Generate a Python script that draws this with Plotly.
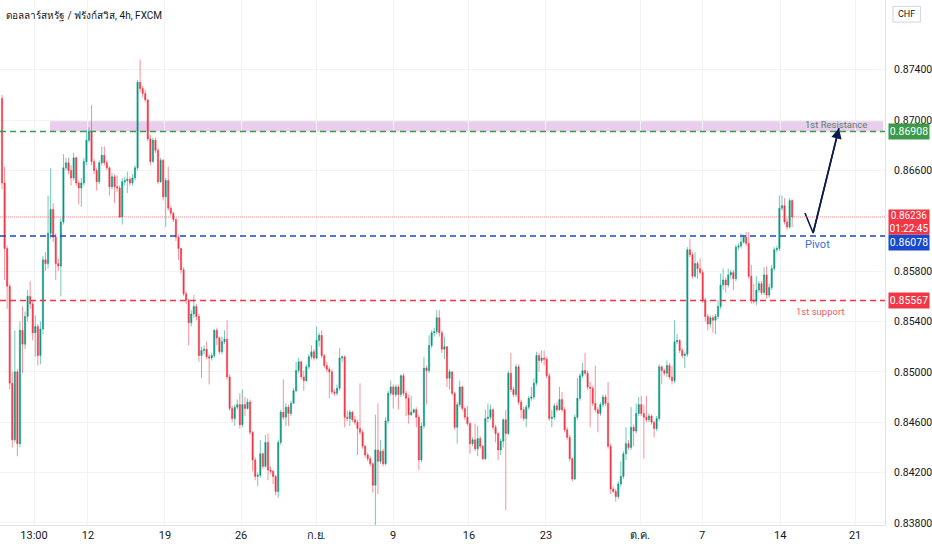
import plotly.graph_objects as go

abertura_inicial = 8717

fechamento = [
    8650, 8598, 8568, 8491, 8446, 8500, 8443, 8533, 8522, 8544,
    8560, 8554, 8531, 8536, 8513, 8534, 8589, 8586, 8610, 8629,
    8607, 8586, 8584, 8619, 8662, 8666, 8660, 8654, 8670, 8650,
    8646, 8650, 8667, 8684, 8691, 8667, 8660, 8651, 8666, 8672,
    8666, 8662, 8647, 8655, 8647, 8646, 8623, 8651, 8652, 8653,
    8650, 8654, 8662, 8730, 8725, 8721, 8716, 8685, 8667, 8684,
    8676, 8651, 8668, 8639, 8652, 8630, 8626, 8621, 8607, 8598,
    8581, 8562, 8557, 8539, 8546, 8552, 8544, 8513, 8517, 8518,
    8512, 8511, 8513, 8533, 8527, 8516, 8524, 8526, 8496, 8471,
    8463, 8472, 8474, 8458, 8474, 8471, 8476, 8452, 8430, 8417,
    8418, 8435, 8425, 8444, 8422, 8421, 8417, 8405, 8444, 8468,
    8464, 8472, 8467, 8475, 8485, 8501, 8508, 8496, 8493, 8504,
    8512, 8516, 8511, 8525, 8529, 8513, 8505, 8502, 8500, 8484,
    8483, 8487, 8511, 8512, 8464, 8463, 8468, 8462, 8460, 8455,
    8452, 8441, 8434, 8431, 8427, 8410, 8438, 8429, 8437, 8427,
    8461, 8483, 8488, 8482, 8488, 8482, 8497, 8483, 8479, 8466,
    8468, 8470, 8464, 8430, 8457, 8503, 8501, 8521, 8531, 8532,
    8543, 8531, 8518, 8520, 8495, 8500, 8483, 8456, 8474, 8488,
    8471, 8464, 8459, 8443, 8446, 8439, 8447, 8441, 8431, 8463,
    8464, 8470, 8456, 8451, 8438, 8445, 8462, 8451, 8499, 8486,
    8482, 8504, 8476, 8470, 8463, 8472, 8479, 8480, 8491, 8513,
    8509, 8511, 8510, 8497, 8463, 8464, 8473, 8470, 8478, 8470,
    8454, 8448, 8431, 8415, 8464, 8479, 8497, 8501, 8499, 8488,
    8487, 8475, 8470, 8467, 8474, 8480, 8475, 8441, 8407, 8405,
    8401, 8411, 8417, 8435, 8443, 8440, 8456, 8453, 8467, 8474,
    8467, 8464, 8462, 8465, 8460, 8455, 8463, 8504, 8501, 8499,
    8505, 8496, 8493, 8524, 8525, 8517, 8513, 8514, 8597, 8593,
    8576, 8586, 8582, 8579, 8557, 8544, 8538, 8543, 8541, 8544,
    8552, 8569, 8573, 8569, 8577, 8579, 8574, 8599, 8600, 8603,
    8607, 8602, 8576, 8557, 8556, 8565, 8570, 8563, 8577, 8561,
    8567, 8582, 8597, 8598, 8630, 8632, 8619, 8615, 8636, 8623,
]

maxima = [
    8720, 8663, 8600, 8570, 8500, 8533, 8502, 8540, 8552, 8548,
    8565, 8572, 8556, 8545, 8538, 8540, 8592, 8595, 8640, 8662,
    8634, 8610, 8590, 8622, 8673, 8670, 8670, 8664, 8674, 8671,
    8652, 8654, 8670, 8692, 8694, 8712, 8669, 8662, 8668, 8679,
    8679, 8668, 8663, 8658, 8657, 8656, 8648, 8654, 8655, 8659,
    8655, 8657, 8664, 8732, 8748, 8727, 8724, 8714, 8688, 8686,
    8686, 8678, 8670, 8669, 8654, 8663, 8632, 8627, 8622, 8609,
    8593, 8583, 8564, 8558, 8549, 8561, 8554, 8546, 8520, 8521,
    8524, 8514, 8515, 8534, 8535, 8528, 8528, 8533, 8541, 8498,
    8473, 8474, 8478, 8483, 8486, 8480, 8479, 8478, 8453, 8432,
    8420, 8446, 8436, 8450, 8451, 8425, 8422, 8418, 8446, 8470,
    8494, 8475, 8474, 8477, 8487, 8508, 8511, 8509, 8501, 8506,
    8514, 8521, 8518, 8536, 8531, 8533, 8514, 8508, 8504, 8502,
    8486, 8490, 8519, 8513, 8513, 8469, 8470, 8469, 8465, 8462,
    8491, 8454, 8442, 8436, 8433, 8428, 8466, 8475, 8446, 8439,
    8464, 8485, 8493, 8490, 8490, 8490, 8498, 8499, 8485, 8482,
    8481, 8471, 8472, 8466, 8460, 8512, 8505, 8529, 8533, 8535,
    8549, 8549, 8533, 8528, 8512, 8502, 8500, 8484, 8476, 8493,
    8489, 8472, 8473, 8460, 8448, 8459, 8457, 8449, 8442, 8470,
    8475, 8474, 8471, 8458, 8452, 8447, 8463, 8470, 8501, 8515,
    8488, 8506, 8506, 8478, 8472, 8474, 8481, 8488, 8495, 8516,
    8515, 8517, 8517, 8512, 8499, 8470, 8475, 8476, 8488, 8484,
    8472, 8456, 8450, 8432, 8466, 8495, 8499, 8507, 8515, 8501,
    8492, 8489, 8505, 8472, 8476, 8482, 8482, 8492, 8443, 8409,
    8407, 8413, 8429, 8437, 8456, 8446, 8472, 8458, 8475, 8480,
    8481, 8474, 8481, 8467, 8466, 8461, 8465, 8506, 8505, 8502,
    8509, 8507, 8505, 8541, 8530, 8526, 8519, 8516, 8599, 8606,
    8595, 8595, 8588, 8590, 8581, 8559, 8546, 8545, 8545, 8546,
    8557, 8578, 8582, 8575, 8582, 8581, 8581, 8601, 8602, 8610,
    8609, 8611, 8611, 8585, 8570, 8576, 8572, 8572, 8583, 8584,
    8570, 8585, 8599, 8600, 8640, 8640, 8638, 8622, 8638, 8637,
]

minima = [
    8645, 8573, 8550, 8486, 8440, 8444, 8433, 8440, 8499, 8518,
    8540, 8550, 8525, 8512, 8505, 8506, 8530, 8580, 8582, 8606,
    8603, 8573, 8580, 8560, 8617, 8660, 8657, 8648, 8652, 8648,
    8633, 8631, 8648, 8664, 8682, 8664, 8657, 8644, 8649, 8664,
    8664, 8660, 8640, 8645, 8634, 8643, 8622, 8617, 8648, 8642,
    8648, 8648, 8652, 8660, 8722, 8718, 8714, 8683, 8664, 8666,
    8674, 8649, 8650, 8636, 8615, 8628, 8624, 8619, 8604, 8589,
    8578, 8560, 8554, 8521, 8536, 8543, 8541, 8508, 8495, 8514,
    8510, 8490, 8509, 8511, 8521, 8514, 8514, 8522, 8494, 8469,
    8460, 8457, 8470, 8455, 8456, 8465, 8470, 8450, 8421, 8414,
    8409, 8416, 8423, 8424, 8414, 8419, 8411, 8402, 8400, 8442,
    8462, 8457, 8457, 8465, 8475, 8484, 8499, 8494, 8485, 8492,
    8502, 8510, 8509, 8510, 8520, 8511, 8503, 8500, 8479, 8482,
    8481, 8481, 8485, 8508, 8456, 8461, 8457, 8460, 8458, 8434,
    8450, 8439, 8432, 8429, 8425, 8404, 8377, 8403, 8427, 8425,
    8426, 8459, 8481, 8471, 8480, 8470, 8480, 8481, 8465, 8459,
    8465, 8467, 8456, 8422, 8428, 8455, 8474, 8499, 8519, 8528,
    8530, 8528, 8515, 8510, 8488, 8486, 8481, 8454, 8443, 8472,
    8469, 8462, 8457, 8435, 8441, 8437, 8433, 8439, 8430, 8430,
    8460, 8462, 8454, 8444, 8430, 8434, 8440, 8390, 8450, 8484,
    8480, 8480, 8474, 8463, 8461, 8456, 8470, 8477, 8478, 8489,
    8500, 8507, 8505, 8495, 8461, 8456, 8462, 8468, 8469, 8468,
    8452, 8446, 8429, 8413, 8414, 8462, 8477, 8495, 8497, 8486,
    8456, 8473, 8468, 8452, 8465, 8472, 8473, 8439, 8403, 8404,
    8397, 8399, 8409, 8415, 8430, 8438, 8438, 8441, 8451, 8465,
    8465, 8431, 8460, 8460, 8458, 8448, 8453, 8461, 8490, 8497,
    8496, 8494, 8490, 8491, 8522, 8515, 8511, 8503, 8512, 8591,
    8574, 8575, 8574, 8577, 8555, 8540, 8533, 8535, 8531, 8530,
    8542, 8550, 8565, 8563, 8567, 8574, 8565, 8572, 8597, 8598,
    8602, 8600, 8574, 8554, 8554, 8553, 8563, 8561, 8561, 8558,
    8559, 8565, 8580, 8595, 8596, 8628, 8617, 8613, 8614, 8615,
]

# rotulos do eixo de tempo (posicao em numero de candles)
pos_datas = [12.5, 33.6, 63.7, 93.5, 122.8, 152.9, 182.6, 212.7, 249.5, 273.8, 304.3, 333.6]
rotulos_datas = ["13:00", "12", "19", "26", "ก.ย.", "9", "16", "23", "ต.ค.", "7", "14", "21"]

ticks_preco = [0.838, 0.842, 0.846, 0.850, 0.854, 0.858, 0.866, 0.870, 0.874]

# niveis desenhados
resistencia = 0.86908
topo_zona = 0.86990
pivot = 0.86078
suporte = 0.85567

# seta prevista: (candle, preco)
seta_ini = (314.0, 0.86261)
seta_meio = (317.2, 0.86103)
seta_fim = (327.3, 0.86936)

VERDE = "#089981"
VERMELHO = "#f23645"
AZUL = "#1848cc"
TEXTO = "#131722"
FONTE = "Liberation Sans Narrow, Roboto, Noto Sans, sans-serif"

x = list(range(len(fechamento)))
fech = [v / 10000 for v in fechamento]
abre = [abertura_inicial / 10000] + fech[:-1]
alta = [v / 10000 for v in maxima]
baixa = [v / 10000 for v in minima]
ultimo = fech[-1]

fig = go.Figure()

fig.add_trace(go.Candlestick(
    x=x, open=abre, high=alta, low=baixa, close=fech,
    increasing=dict(line=dict(color="rgba(8,153,129,0.55)", width=1), fillcolor=VERDE),
    decreasing=dict(line=dict(color="rgba(242,54,69,0.55)", width=1), fillcolor=VERMELHO),
    whiskerwidth=0, hoverinfo="skip", showlegend=False,
))

# seta da projecao
fig.add_trace(go.Scatter(
    x=[seta_ini[0], seta_meio[0], seta_fim[0]],
    y=[seta_ini[1], seta_meio[1], seta_fim[1]],
    mode="lines", line=dict(color="#0d1b4c", width=1.6),
    showlegend=False, hoverinfo="skip",
))

formas = [
    dict(type="rect", xref="paper", yref="y", x0=50 / 885, x1=0.998, y0=resistencia, y1=topo_zona,
         fillcolor="rgba(206,147,216,0.45)", line=dict(width=0), layer="below"),
    dict(type="line", xref="paper", yref="y", x0=0, x1=1, y0=resistencia, y1=resistencia,
         line=dict(color="#3a9a4a", width=1.5, dash="6px,4px")),
    dict(type="line", xref="paper", yref="y", x0=0, x1=1, y0=pivot, y1=pivot,
         line=dict(color=AZUL, width=1.5, dash="6px,4px")),
    dict(type="line", xref="paper", yref="y", x0=0, x1=1, y0=suporte, y1=suporte,
         line=dict(color=VERMELHO, width=1.5, dash="6px,4px")),
    dict(type="line", xref="paper", yref="y", x0=0, x1=1, y0=ultimo, y1=ultimo,
         line=dict(color="rgba(242,54,69,0.6)", width=1, dash="1px,1px")),
    # caixa CHF
    dict(type="rect", xref="paper", yref="paper", x0=1.009, x1=1.04, y0=0.958, y1=0.988,
         line=dict(color="#d1d4dc", width=1), fillcolor="white"),
]

def etiqueta(y, texto, cor, desloc=0):
    return dict(xref="paper", yref="y", x=1, y=y, xanchor="left", yanchor="middle",
                xshift=3, yshift=desloc, text=texto, showarrow=False, bgcolor=cor,
                borderpad=1, width=38, height=13, font=dict(color="white", size=10.5))

anotacoes = [
    dict(xref="paper", yref="paper", x=0.005, y=0.985, xanchor="left", yanchor="top",
         text="ดอลลาร์สหรัฐ / ฟรังก์สวิส, 4h, FXCM", showarrow=False,
         font=dict(color=TEXTO, size=10)),
    dict(xref="paper", yref="paper", x=1.0245, y=0.973, xanchor="center", yanchor="middle",
         text="CHF", showarrow=False, font=dict(color=TEXTO, size=9)),
    etiqueta(resistencia, "0.86908", "#3a9a4a"),
    etiqueta(pivot, "0.86078", AZUL, -6),
    etiqueta(suporte, "0.85567", VERMELHO),
    dict(xref="paper", yref="y", x=1, y=ultimo, xanchor="left", yanchor="middle",
         xshift=3, yshift=-5, text="0.86236<br>01:22:45", showarrow=False,
         bgcolor=VERMELHO, borderpad=1, width=38, height=22,
         font=dict(color="white", size=10)),
    dict(x=326.2, y=0.86962, text="1st Resistance", showarrow=False,
         font=dict(color="#5f8068", size=9.5)),
    dict(x=seta_meio[0] + 1.6, y=pivot, yshift=-8, text="Pivot", showarrow=False,
         font=dict(color="#3a6fd8", size=11)),
    dict(x=319.9, y=suporte, yshift=-11, text="1st support", showarrow=False,
         font=dict(color="#ef5a66", size=9.5)),
    # ponta da seta
    dict(x=seta_fim[0], y=seta_fim[1], ax=seta_meio[0], ay=seta_meio[1],
         axref="x", ayref="y", xref="x", yref="y", text="", showarrow=True,
         arrowhead=2, arrowsize=1.3, arrowwidth=1.6, arrowcolor="#0d1b4c"),
]

fig.update_layout(
    width=932, height=550,
    margin=dict(l=0, r=47, t=0, b=25),
    paper_bgcolor="white", plot_bgcolor="white",
    font=dict(family=FONTE, color=TEXTO, size=11),
    shapes=formas, annotations=anotacoes,
    xaxis=dict(
        range=[-0.8, 345.3], rangeslider=dict(visible=False),
        tickmode="array", tickvals=pos_datas, ticktext=rotulos_datas,
        showgrid=True, gridcolor="#f2f3f5", zeroline=False,
        showline=True, linecolor="#e0e3eb", ticks="", tickfont=dict(size=11),
    ),
    yaxis=dict(
        range=[0.83784, 0.87953], side="right",
        tickmode="array", tickvals=ticks_preco, tickformat=".5f",
        showgrid=True, gridcolor="#f2f3f5", zeroline=False,
        showline=True, linecolor="#e0e3eb", ticks="", ticklabelstandoff=6,
        tickfont=dict(size=10.5),
    ),
)

# tira a margem padrao da pagina para o grafico ocupar a janela toda
fig.write_html(
    "out.html",
    config={"displayModeBar": False},
    post_script="document.body.style.margin='0px';document.body.style.overflow='hidden';",
)
